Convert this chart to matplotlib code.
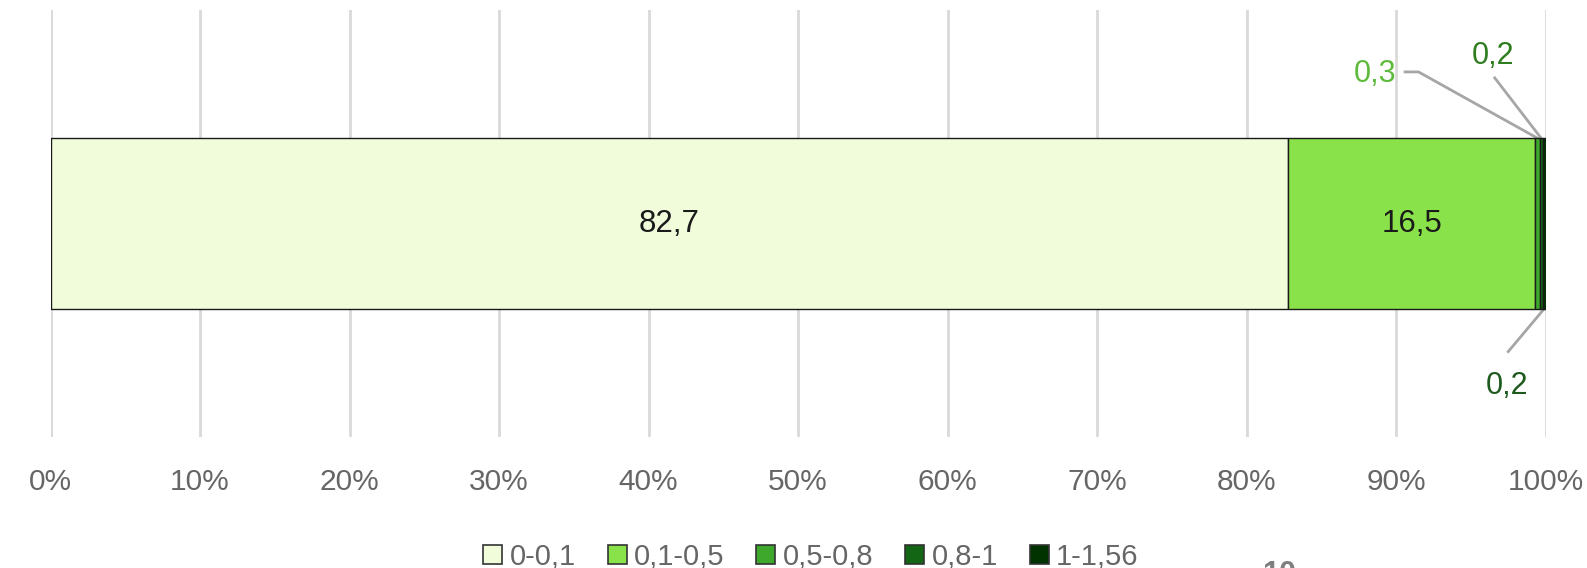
import numpy as np
import matplotlib.pyplot as plt
from matplotlib.patches import Patch

plt.rcParams["font.family"] = ["Liberation Sans", "DejaVu Sans"]

categories = ["0-0,1", "0,1-0,5", "0,5-0,8", "0,8-1", "1-1,56"]
values = [82.7, 16.5, 0.3, 0.2, 0.2]
value_labels = ["82,7", "16,5", "0,3", "0,2", "0,2"]
colors = ["#F1FCDB", "#8AE24A", "#3DA82B", "#136613", "#003300"]
tick_values = np.arange(0, 101, 10)
tick_labels = ["%d%%" % t for t in tick_values]

fig = plt.figure(figsize=(15.87, 5.68), dpi=100)
ax = fig.add_axes([0.0319, 0.2306, 0.942, 0.7518])

shares = 100 * np.array(values) / np.sum(values)
left = np.concatenate([[0], np.cumsum(shares)[:-1]])
ax.barh(0, shares, left=left, height=0.4, color=colors,
        edgecolor="#1a1a1a", linewidth=1.0, zorder=3)

ax.set_xlim(0, 100)
ax.set_ylim(-0.5, 0.5)
ax.set_xticks(tick_values)
ax.set_xticklabels(tick_labels, fontsize=21.5, color="#666666")
ax.set_yticks([])
ax.tick_params(axis="x", length=0, pad=22)
ax.grid(axis="x", color="#D9D9D9", linewidth=2, zorder=0)
for s in ax.spines.values():
    s.set_visible(False)

# labels inside the big segments
for i in range(2):
    ax.text(left[i] + shares[i] / 2, 0, value_labels[i], ha="center", va="center",
            fontsize=22.5, color="#1a1a1a", zorder=4)

# leader-line labels for the thin segments
line_kw = dict(color="#A6A6A6", linewidth=2, zorder=2, clip_on=False)
mid = left + shares / 2

ax.plot([90.6, 91.5, mid[2]], [0.355, 0.355, 0.2], **line_kw)
ax.text(90.0, 0.35, value_labels[2], ha="right", va="center",
        fontsize=22, color="#5DBB3C")

ax.plot([96.6, mid[3]], [0.341, 0.2], **line_kw)
ax.text(96.5, 0.393, value_labels[3], ha="center", va="center",
        fontsize=22, color="#2E7D1F")

ax.plot([97.5, mid[4]], [-0.30, -0.2], **line_kw)
ax.text(97.4, -0.38, value_labels[4], ha="center", va="center",
        fontsize=22, color="#1E5A1E")

handles = [Patch(facecolor=c, edgecolor="#333333", linewidth=1.2) for c in colors]
fig.legend(handles, categories, loc="center", bbox_to_anchor=(0.511, 0.02),
           ncol=5, frameon=False, fontsize=21, handlelength=0.65, handleheight=0.65,
           handletextpad=0.25, columnspacing=1.1, labelcolor="#666666")

# page number, cut off by the bottom edge
fig.text(0.806, -0.012, "10", ha="center", va="center", fontsize=22,
         fontweight="bold", color="#7F7F7F")

plt.savefig("out.png", dpi=100)
